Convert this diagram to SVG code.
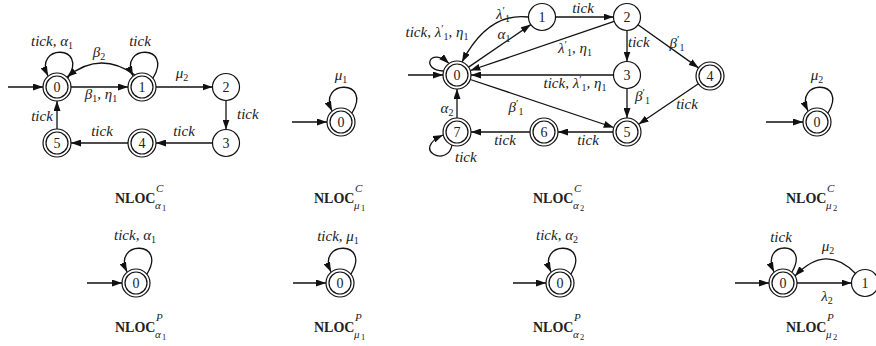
<svg xmlns="http://www.w3.org/2000/svg" width="876" height="346" viewBox="0 0 876 346">
<defs>
<marker id="ah" viewBox="0 0 10 7" refX="10" refY="3.5" markerWidth="10" markerHeight="7" markerUnits="userSpaceOnUse" orient="auto"><path d="M0,0 L10,3.5 L0,7 z" fill="#111"/></marker>
<style>
.e{fill:none;stroke:#111;stroke-width:1.3;marker-end:url(#ah)}
.c{fill:#fff;stroke:#111;stroke-width:1.2}
.n{font-family:"Liberation Serif",serif;font-size:14px;fill:#222;text-anchor:middle}
.l{font-family:"Liberation Serif",serif;font-size:15px;font-style:italic;fill:#222}
.m{text-anchor:middle}
.s{font-size:10px;font-style:normal}
.p{font-size:11px;font-style:normal}
.t{font-family:"Liberation Serif",serif;font-size:14px;font-weight:bold;fill:#222}
.ts{font-size:11px;font-weight:normal;font-style:italic}
.tss{font-size:8.5px;font-weight:normal}
</style>
</defs>
<rect width="876" height="346" fill="#fff"/>

<!-- Diagram 1: NLOC C alpha1 -->
<g id="d1">
<g id="d1-edges">
<path class="e" d="M8,87 L43,87"/>
<path class="e" d="M71,87 L128,87"/>
<path class="e" d="M156,87 L212.5,87"/>
<path class="e" d="M226,100.5 L226,129.5"/>
<path class="e" d="M212.5,143 L156,143"/>
<path class="e" d="M128,143 L71,143"/>
<path class="e" d="M57,129 L57,101"/>
<path class="e" d="M68,78 C89,44 33,44 48,76"/>
<path class="e" d="M153,78 C174,44 118,44 133,76"/>
<path class="e" d="M135,75 Q100,50 67,77"/>
</g>
<g id="d1-n0"><circle class="c" cx="57" cy="87" r="14"/><circle class="c" cx="57" cy="87" r="11"/><text class="n" x="57" y="92">0</text></g>
<g id="d1-n1"><circle class="c" cx="142" cy="87" r="14"/><circle class="c" cx="142" cy="87" r="11"/><text class="n" x="142" y="92">1</text></g>
<g id="d1-n2"><circle class="c" cx="226" cy="87" r="13.5"/><text class="n" x="226" y="92">2</text></g>
<g id="d1-n3"><circle class="c" cx="226" cy="143" r="13.5"/><text class="n" x="226" y="148">3</text></g>
<g id="d1-n4"><circle class="c" cx="142" cy="143" r="14"/><circle class="c" cx="142" cy="143" r="11"/><text class="n" x="142" y="148">4</text></g>
<g id="d1-n5"><circle class="c" cx="57" cy="143" r="14"/><circle class="c" cx="57" cy="143" r="11"/><text class="n" x="57" y="148">5</text></g>
<g id="d1-labels">
<text class="l m" x="52" y="46">tick, α<tspan class="s" dy="3">1</tspan></text>
<text class="l m" x="140" y="46">tick</text>
<text class="l m" x="99" y="57">β<tspan class="s" dy="3">2</tspan></text>
<text class="l m" x="101" y="99">β<tspan class="s" dy="3">1</tspan><tspan dy="-3">, η</tspan><tspan class="s" dy="3">1</tspan></text>
<text class="l m" x="182" y="78">μ<tspan class="s" dy="3">2</tspan></text>
<text class="l" x="237" y="119">tick</text>
<text class="l m" x="184" y="136">tick</text>
<text class="l m" x="102" y="136">tick</text>
<text class="l m" x="42" y="121">tick</text>
</g>
<text class="t" x="115" y="203">NLOC<tspan class="ts" x="156" y="192">C</tspan><tspan class="ts" x="155" y="209">α</tspan><tspan class="tss" x="162" y="211">1</tspan></text>
</g>

<!-- Diagram 2: NLOC C mu1 -->
<g id="d2">
<g id="d2-edges">
<path class="e" d="M292,122 L327,122"/>
<path class="e" d="M352,113 C373,79 317,79 332,111"/>
</g>
<g id="d2-n0"><circle class="c" cx="341" cy="122" r="14"/><circle class="c" cx="341" cy="122" r="11"/><text class="n" x="341" y="127">0</text></g>
<text class="l m" x="341" y="80">μ<tspan class="s" dy="3">1</tspan></text>
<text class="t" x="314" y="203">NLOC<tspan class="ts" x="355" y="192">C</tspan><tspan class="ts" x="354" y="209">μ</tspan><tspan class="tss" x="361" y="211">1</tspan></text>
</g>

<!-- Diagram 3: NLOC C alpha2 -->
<g id="d3">
<g id="d3-edges">
<path class="e" d="M408,75 L443,75"/>
<path class="e" d="M443.5,71 C420,70 430,46 449,63.5"/>
<path class="e" d="M468.6,67.1 L530.8,24.6"/>
<path class="e" d="M528.5,17 Q488,12 462,62"/>
<path class="e" d="M555.5,17 L613.5,17"/>
<path class="e" d="M614.2,21.4 L470.3,70.5"/>
<path class="e" d="M627,30.5 L627,61.5"/>
<path class="e" d="M613.5,75 L471,75"/>
<path class="e" d="M470.3,79.5 L613.7,127.5"/>
<path class="e" d="M627,88.5 L627,118"/>
<path class="e" d="M638,24.8 L698.6,67.9"/>
<path class="e" d="M698.4,83.8 L638.6,124.2"/>
<path class="e" d="M613,132 L558,132"/>
<path class="e" d="M530,132 L471,132"/>
<path class="e" d="M457,118 L457,89"/>
<path class="e" d="M452,145 C448,168 410,150 443,135"/>
</g>
<g id="d3-n0"><circle class="c" cx="457" cy="75" r="14"/><circle class="c" cx="457" cy="75" r="11"/><text class="n" x="457" y="80">0</text></g>
<g id="d3-n1"><circle class="c" cx="542" cy="17" r="13.5"/><text class="n" x="542" y="22">1</text></g>
<g id="d3-n2"><circle class="c" cx="627" cy="17" r="13.5"/><text class="n" x="627" y="22">2</text></g>
<g id="d3-n3"><circle class="c" cx="627" cy="75" r="13.5"/><text class="n" x="627" y="80">3</text></g>
<g id="d3-n4"><circle class="c" cx="710" cy="76" r="14"/><circle class="c" cx="710" cy="76" r="11"/><text class="n" x="710" y="81">4</text></g>
<g id="d3-n5"><circle class="c" cx="627" cy="132" r="14"/><circle class="c" cx="627" cy="132" r="11"/><text class="n" x="627" y="137">5</text></g>
<g id="d3-n6"><circle class="c" cx="544" cy="132" r="14"/><circle class="c" cx="544" cy="132" r="11"/><text class="n" x="544" y="137">6</text></g>
<g id="d3-n7"><circle class="c" cx="457" cy="132" r="14"/><circle class="c" cx="457" cy="132" r="11"/><text class="n" x="457" y="137">7</text></g>
<g id="d3-labels">
<text class="l m" x="437" y="37">tick, λ<tspan class="p" dy="-5">′</tspan><tspan class="s" dy="8">1</tspan><tspan dy="-3">, η</tspan><tspan class="s" dy="3">1</tspan></text>
<text class="l m" x="503" y="19">λ<tspan class="p" dy="-5">′</tspan><tspan class="s" dy="8">1</tspan></text>
<text class="l m" x="504" y="39">α<tspan class="s" dy="3">1</tspan></text>
<text class="l m" x="583" y="13">tick</text>
<text class="l m" x="575" y="53">λ<tspan class="p" dy="-5">′</tspan><tspan class="s" dy="8">1</tspan><tspan dy="-3">, η</tspan><tspan class="s" dy="3">1</tspan></text>
<text class="l" x="628" y="47">tick</text>
<text class="l m" x="677" y="48">β<tspan class="p" dy="-5">′</tspan><tspan class="s" dy="8">1</tspan></text>
<text class="l m" x="575" y="88">tick, λ<tspan class="p" dy="-5">′</tspan><tspan class="s" dy="8">1</tspan><tspan dy="-3">, η</tspan><tspan class="s" dy="3">1</tspan></text>
<text class="l" x="635" y="101">β<tspan class="p" dy="-5">′</tspan><tspan class="s" dy="8">1</tspan></text>
<text class="l m" x="687" y="109">tick</text>
<text class="l m" x="516" y="112">β<tspan class="p" dy="-5">′</tspan><tspan class="s" dy="8">1</tspan></text>
<text class="l m" x="588" y="145">tick</text>
<text class="l m" x="505" y="145">tick</text>
<text class="l m" x="447" y="113">α<tspan class="s" dy="3">2</tspan></text>
<text class="l" x="455" y="162">tick</text>
</g>
<text class="t" x="533" y="203">NLOC<tspan class="ts" x="574" y="192">C</tspan><tspan class="ts" x="573" y="209">α</tspan><tspan class="tss" x="580" y="211">2</tspan></text>
</g>

<!-- Diagram 4: NLOC C mu2 -->
<g id="d4">
<g id="d4-edges">
<path class="e" d="M766,122 L803,122"/>
<path class="e" d="M828,113 C849,79 793,79 808,111"/>
</g>
<g id="d4-n0"><circle class="c" cx="817" cy="122" r="14"/><circle class="c" cx="817" cy="122" r="11"/><text class="n" x="817" y="127">0</text></g>
<text class="l m" x="817" y="80">μ<tspan class="s" dy="3">2</tspan></text>
<text class="t" x="786" y="203">NLOC<tspan class="ts" x="827" y="192">C</tspan><tspan class="ts" x="826" y="209">μ</tspan><tspan class="tss" x="833" y="211">2</tspan></text>
</g>

<!-- Diagram 5: NLOC P alpha1 -->
<g id="d5">
<g id="d5-edges">
<path class="e" d="M87,283 L122,283"/>
<path class="e" d="M147,274 C168,240 112,240 127,272"/>
</g>
<g id="d5-n0"><circle class="c" cx="136" cy="283" r="14"/><circle class="c" cx="136" cy="283" r="11"/><text class="n" x="136" y="288">0</text></g>
<text class="l m" x="135" y="240">tick, α<tspan class="s" dy="3">1</tspan></text>
<text class="t" x="115" y="332">NLOC<tspan class="ts" x="156" y="321">P</tspan><tspan class="ts" x="155" y="338">α</tspan><tspan class="tss" x="162" y="340">1</tspan></text>
</g>

<!-- Diagram 6: NLOC P mu1 -->
<g id="d6">
<g id="d6-edges">
<path class="e" d="M293,283 L326,283"/>
<path class="e" d="M351,274 C372,240 316,240 331,272"/>
</g>
<g id="d6-n0"><circle class="c" cx="340" cy="283" r="14"/><circle class="c" cx="340" cy="283" r="11"/><text class="n" x="340" y="288">0</text></g>
<text class="l m" x="338" y="241">tick, μ<tspan class="s" dy="3">1</tspan></text>
<text class="t" x="314" y="332">NLOC<tspan class="ts" x="355" y="321">P</tspan><tspan class="ts" x="354" y="338">μ</tspan><tspan class="tss" x="361" y="340">1</tspan></text>
</g>

<!-- Diagram 7: NLOC P alpha2 -->
<g id="d7">
<g id="d7-edges">
<path class="e" d="M513,283 L546,283"/>
<path class="e" d="M571,274 C592,240 536,240 551,272"/>
</g>
<g id="d7-n0"><circle class="c" cx="560" cy="283" r="14"/><circle class="c" cx="560" cy="283" r="11"/><text class="n" x="560" y="288">0</text></g>
<text class="l m" x="557" y="240">tick, α<tspan class="s" dy="3">2</tspan></text>
<text class="t" x="533" y="332">NLOC<tspan class="ts" x="574" y="321">P</tspan><tspan class="ts" x="573" y="338">α</tspan><tspan class="tss" x="580" y="340">2</tspan></text>
</g>

<!-- Diagram 8: NLOC P mu2 -->
<g id="d8">
<g id="d8-edges">
<path class="e" d="M735,283 L769,283"/>
<path class="e" d="M792,272 C811,240 759,240 774,272"/>
<path class="e" d="M797,283 L851.5,283"/>
<path class="e" d="M855.5,273.5 Q826,243 795,276"/>
</g>
<g id="d8-n0"><circle class="c" cx="783" cy="283" r="14"/><circle class="c" cx="783" cy="283" r="11"/><text class="n" x="783" y="288">0</text></g>
<g id="d8-n1"><circle class="c" cx="865" cy="283" r="13.5"/><text class="n" x="865" y="288">1</text></g>
<text class="l m" x="781" y="242">tick</text>
<text class="l m" x="828" y="251">μ<tspan class="s" dy="3">2</tspan></text>
<text class="l m" x="827" y="301">λ<tspan class="s" dy="3">2</tspan></text>
<text class="t" x="786" y="332">NLOC<tspan class="ts" x="827" y="321">P</tspan><tspan class="ts" x="826" y="338">μ</tspan><tspan class="tss" x="833" y="340">2</tspan></text>
</g>
</svg>
